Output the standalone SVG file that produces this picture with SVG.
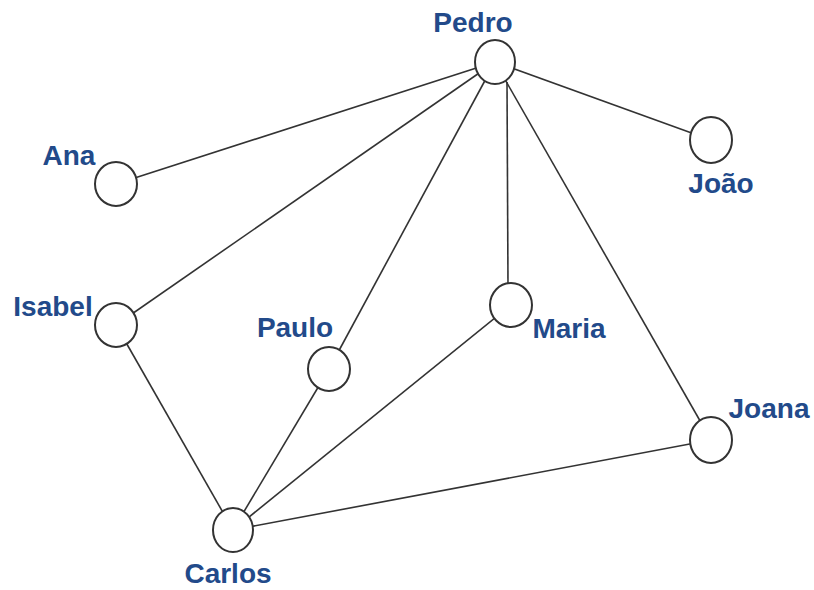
<svg xmlns="http://www.w3.org/2000/svg" width="814" height="590" viewBox="0 0 814 590">
<style>
.edge{stroke:#333;stroke-width:1.6;fill:none}
.node ellipse{fill:#fff;stroke:#333;stroke-width:2}
.node text{font-family:"Liberation Sans",Arial,sans-serif;font-weight:bold;font-size:28px;fill:#224a8a;text-anchor:middle}
</style>
<rect width="814" height="590" fill="#fff"/>
<g id="connectors">
<line class="edge" x1="495" y1="62" x2="116" y2="184"/>
<line class="edge" x1="495" y1="62" x2="116" y2="325"/>
<line class="edge" x1="495" y1="62" x2="329" y2="369"/>
<line class="edge" x1="507" y1="82" x2="508" y2="285"/>
<line class="edge" x1="495" y1="62" x2="711" y2="440"/>
<line class="edge" x1="495" y1="62" x2="711" y2="140"/>
<line class="edge" x1="116" y1="325" x2="233" y2="530"/>
<line class="edge" x1="329" y1="369" x2="233" y2="530"/>
<line class="edge" x1="511" y1="305" x2="233" y2="530"/>
<line class="edge" x1="711" y1="440" x2="233" y2="530"/>
</g>
<g id="pedro" class="node"><ellipse cx="495" cy="62" rx="20" ry="22"/><text x="473" y="32">Pedro</text></g>
<g id="ana" class="node"><ellipse cx="116" cy="184" rx="21" ry="22"/><text x="69" y="165">Ana</text></g>
<g id="joao" class="node"><ellipse cx="711" cy="140" rx="21" ry="23"/><text x="721" y="193">João</text></g>
<g id="isabel" class="node"><ellipse cx="116" cy="325" rx="21" ry="22"/><text x="53" y="316">Isabel</text></g>
<g id="paulo" class="node"><ellipse cx="329" cy="369" rx="21" ry="22"/><text x="295" y="337">Paulo</text></g>
<g id="maria" class="node"><ellipse cx="511" cy="305" rx="21" ry="22"/><text x="569" y="338">Maria</text></g>
<g id="joana" class="node"><ellipse cx="711" cy="440" rx="21" ry="23"/><text x="769" y="418">Joana</text></g>
<g id="carlos" class="node"><ellipse cx="233" cy="530" rx="20" ry="22"/><text x="228" y="583">Carlos</text></g>
</svg>
